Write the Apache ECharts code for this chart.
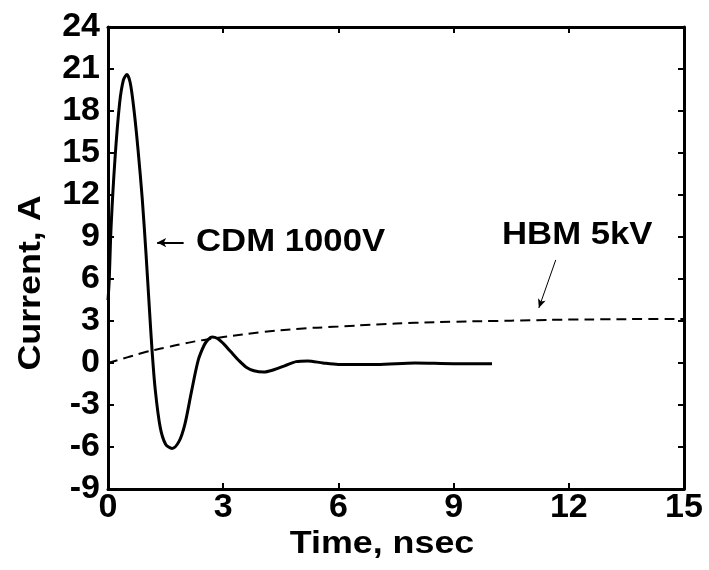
<!DOCTYPE html>
<html>
<head>
<meta charset="utf-8">
<script src="https://cdn.jsdelivr.net/npm/echarts@6/dist/echarts.min.js"></script>
<style>
  html, body { margin: 0; padding: 0; background: #fff; }
  #chart { width: 709px; height: 570px; }
</style>
</head>
<body>
<div id="chart"></div>
<script>
// CDM 1000V discharge current (time in ns, current in A)
const cdmTime = [0, 0.03, 0.08, 0.18, 0.3, 0.4, 0.49, 0.58, 0.68, 0.78, 0.89, 0.99, 1.08, 1.15, 1.23, 1.36, 1.5, 1.67, 1.85, 2.0, 2.17, 2.35, 2.5, 2.6, 2.71, 2.85, 3.0, 3.2, 3.4, 3.6, 3.8, 4.05, 4.3, 4.6, 4.9, 5.2, 5.6, 6.0, 7.0, 8.0, 9.0, 10.0]
const cdmCurrent = [4.5, 5.8, 9.7, 14.5, 18.5, 20.2, 20.6, 20.0, 18.0, 15.3, 11.8, 7.8, 3.8, 0.8, -1.9, -4.6, -5.8, -6.1, -5.6, -4.4, -2.1, 0.2, 1.25, 1.65, 1.85, 1.75, 1.4, 0.8, 0.2, -0.3, -0.55, -0.65, -0.5, -0.2, 0.1, 0.15, 0, -0.1, -0.1, 0, -0.05, -0.05]

// HBM 5kV discharge current
const hbmTime = [0, 0.5, 1, 1.5, 2, 2.5, 3, 4, 5, 6, 7, 8, 9, 10, 11, 12, 13, 14, 15]
const hbmCurrent = [0, 0.4, 0.8, 1.1, 1.4, 1.65, 1.85, 2.2, 2.45, 2.6, 2.75, 2.87, 2.95, 3.0, 3.05, 3.1, 3.12, 3.14, 3.15]

const xTicks = [0, 3, 6, 9, 12, 15]
const yTicks = [-9, -6, -3, 0, 3, 6, 9, 12, 15, 18, 21, 24]

const font = 'Liberation Sans, Arial, sans-serif'

const chart = echarts.init(document.getElementById('chart'))

// shared axis look: thick black frame with short inward ticks
const frameLine = { show: true, onZero: false, lineStyle: { color: '#000', width: 3 } }
const inTick = { show: true, inside: true, length: 6, lineStyle: { color: '#000', width: 2 } }
const tickFont = { color: '#000', fontSize: 34, fontWeight: 'bold', fontFamily: font, showMaxLabel: true, showMinLabel: true }

// the figure's lettering is a bit wider than Arial, so stretch it a little
const wide = 1.12

chart.setOption({
  animation: false,
  backgroundColor: '#fff',
  grid: { left: 108, right: 25, top: 27, bottom: 81 },
  xAxis: [
    {
      type: 'value',
      min: xTicks[0],
      max: xTicks[xTicks.length - 1],
      interval: 3,
      axisLine: frameLine,
      axisTick: inTick,
      splitLine: { show: false },
      axisLabel: Object.assign({ margin: 2 }, tickFont)
    },
    {
      type: 'value',
      position: 'top',
      min: xTicks[0],
      max: xTicks[xTicks.length - 1],
      interval: 3,
      axisLine: frameLine,
      axisTick: inTick,
      splitLine: { show: false },
      axisLabel: { show: false }
    }
  ],
  yAxis: [
    {
      type: 'value',
      min: yTicks[0],
      max: yTicks[yTicks.length - 1],
      interval: 3,
      axisLine: frameLine,
      axisTick: inTick,
      splitLine: { show: false },
      axisLabel: Object.assign({ margin: 8 }, tickFont)
    },
    {
      type: 'value',
      position: 'right',
      min: yTicks[0],
      max: yTicks[yTicks.length - 1],
      interval: 3,
      axisLine: frameLine,
      axisTick: inTick,
      splitLine: { show: false },
      axisLabel: { show: false }
    }
  ],
  graphic: [
    {
      type: 'text',
      x: 31, y: 283,
      rotation: Math.PI / 2,
      scaleX: wide,
      style: {
        text: 'Current, A', fill: '#000', font: 'bold 32px ' + font,
        align: 'center', verticalAlign: 'middle'
      }
    },
    {
      type: 'text',
      x: 382, y: 544,
      scaleX: wide,
      style: {
        text: 'Time, nsec', fill: '#000', font: 'bold 32px ' + font,
        align: 'center', verticalAlign: 'middle'
      }
    },
    {
      type: 'text',
      x: 196, y: 242,
      scaleX: wide,
      style: {
        text: 'CDM 1000V', fill: '#000', font: 'bold 31px ' + font,
        align: 'left', verticalAlign: 'middle'
      }
    },
    {
      type: 'text',
      x: 502, y: 235,
      scaleX: wide,
      style: {
        text: 'HBM 5kV', fill: '#000', font: 'bold 31px ' + font,
        align: 'left', verticalAlign: 'middle'
      }
    }
  ],
  series: [
    {
      name: 'CDM 1000V',
      type: 'line',
      data: cdmTime.map((t, i) => [t, cdmCurrent[i]]),
      smooth: 0.3,
      showSymbol: false,
      lineStyle: { color: '#000', width: 3 },
      markLine: {
        silent: true,
        symbol: ['none', 'arrow'],
        symbolSize: [7, 9],
        label: { show: false },
        lineStyle: { color: '#000', width: 2, type: 'solid' },
        data: [[{ coord: [1.97, 8.6] }, { coord: [1.28, 8.6] }]]
      }
    },
    {
      name: 'HBM 5kV',
      type: 'line',
      data: hbmTime.map((t, i) => [t, hbmCurrent[i]]),
      smooth: true,
      showSymbol: false,
      lineStyle: { color: '#000', width: 2, type: [10, 6] },
      markLine: {
        silent: true,
        symbol: ['none', 'arrow'],
        symbolSize: [6, 9],
        label: { show: false },
        lineStyle: { color: '#000', width: 1, type: 'solid' },
        data: [[{ coord: [11.66, 7.36] }, { coord: [11.22, 3.93] }]]
      }
    }
  ]
})
</script>
</body>
</html>
